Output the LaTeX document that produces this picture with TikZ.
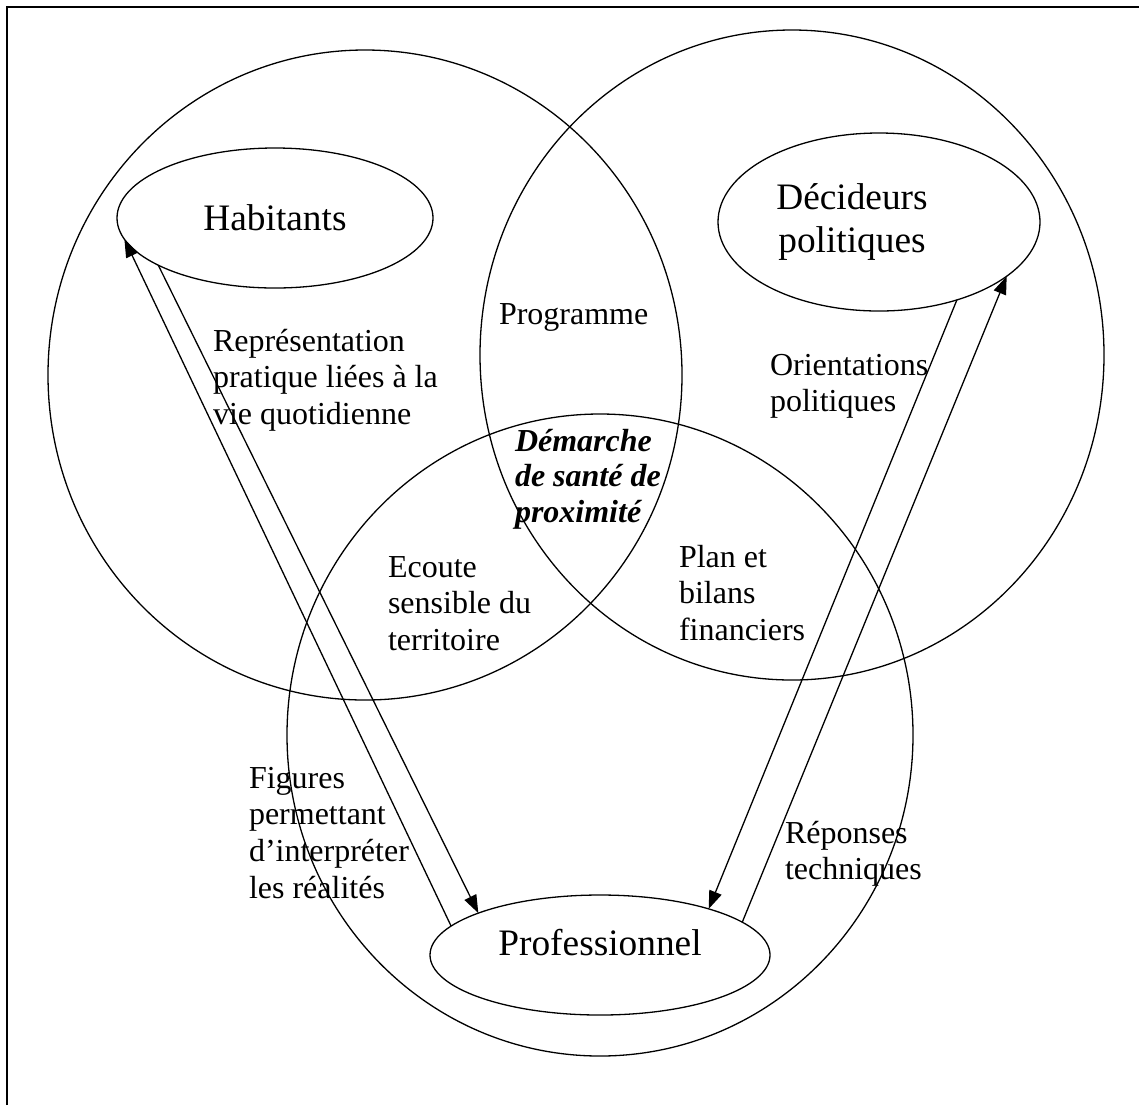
\documentclass[tikz,border=0pt]{standalone}
\usepackage{fontspec}
\setmainfont{Liberation Serif}
\usetikzlibrary{shapes.geometric,arrows.meta}
\begin{document}
\begin{tikzpicture}[x=0.5pt,y=-0.5pt,
  lab/.style={inner sep=0pt, outer sep=0pt, align=left, font=\fontsize{16pt}{18.4pt}\selectfont},
  big/.style={draw, ellipse, line width=0.65pt, inner sep=0pt, outer sep=0pt},
  actor/.style={draw, ellipse, line width=0.65pt, inner sep=0pt, outer sep=0pt, align=center, font=\fontsize{18.67pt}{21.5pt}\selectfont},
  actortext/.style={inner sep=0pt, outer sep=0pt, align=center, font=\fontsize{18.67pt}{21.5pt}\selectfont},
  arr/.style={line width=0.65pt, -{Triangle[length=9pt,width=6.5pt]}}]
\useasboundingbox (0,0) rectangle (1139,1105);
\draw[line width=1pt] (7,1105) -- (7,7) -- (1139,7);
% large circles
\node[big, minimum width=317pt, minimum height=325pt] (lc) at (365,375) {};
\node[big, minimum width=312pt, minimum height=325pt] (rc) at (792,355) {};
\node[big, minimum width=313pt, minimum height=321pt] (bc) at (600,735) {};
% actors
\node[actor, minimum width=158pt, minimum height=70pt] (hab) at (275,218) {Habitants};
\node[actor, minimum width=161pt, minimum height=89pt] (dec) at (879,222) {};
\node[actortext] (dect) at (852,222) {Décideurs\\politiques};
\node[actor, minimum width=170pt, minimum height=60pt, text height=12pt, text depth=12pt] (pro) at (600,955) {Professionnel};
% arrows
\draw[arr] (pro.169.6) -- (hab.188.8);
\draw[arr] (hab.202.8) -- (pro.161);
\draw[arr] (dec.-45) -- (pro.23.3);
\draw[arr] (pro.13.3) -- (dec.-23.2);
% labels (anchor = baseline of the last line)
\node[lab, anchor=base west] (prog) at (499,324) {Programme};
\node[lab, anchor=base west] (rep) at (213,424.6) {Représentation\\pratique liées à la\\vie quotidienne};
\node[lab, anchor=base west] (ori) at (770,411.8) {Orientations\\politiques};
\node[lab, anchor=base west, font=\fontsize{16pt}{17.6pt}\selectfont\bfseries\itshape] (dem) at (515,522) {Démarche\\de santé de\\proximité};
\node[lab, anchor=base west] (eco) at (388,650.6) {Ecoute\\sensible du\\territoire};
\node[lab, anchor=base west] (plan) at (679,640.6) {Plan et\\bilans\\financiers};
\node[lab, anchor=base west] (fig) at (249,898.4) {Figures\\permettant\\d’interpréter\\les réalités};
\node[lab, anchor=base west] (repo) at (785,879.8) {Réponses\\techniques};
\end{tikzpicture}
\end{document}
